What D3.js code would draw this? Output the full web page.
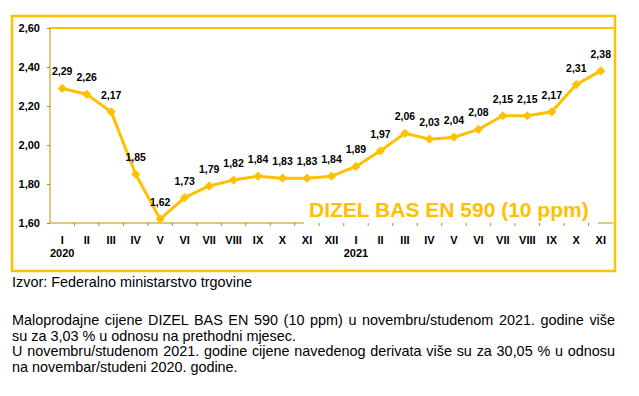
<!DOCTYPE html>
<html>
<head>
<meta charset="utf-8">
<script src="https://cdn.jsdelivr.net/npm/d3@7"></script>
<style>
  body { margin: 0; background: #fff; }
  text { font-family: Arial, "Liberation Sans", sans-serif; }
</style>
</head>
<body>
<div id="chart"></div>
<script>
// months Jan 2020 - Nov 2021
const months = ["I", "II", "III", "IV", "V", "VI", "VII", "VIII", "IX", "X", "XI", "XII",
  "I", "II", "III", "IV", "V", "VI", "VII", "VIII", "IX", "X", "XI"];
const years = ["2020", "", "", "", "", "", "", "", "", "", "", "",
  "2021", "", "", "", "", "", "", "", "", "", ""];
const prices = [2.29, 2.26, 2.17, 1.85, 1.62, 1.73, 1.79, 1.82, 1.84, 1.83, 1.83, 1.84,
  1.89, 1.97, 2.06, 2.03, 2.04, 2.08, 2.15, 2.15, 2.17, 2.31, 2.38];
const yTicks = [1.6, 1.8, 2.0, 2.2, 2.4, 2.6];
const chartTitle = "DIZEL BAS EN 590 (10 ppm)";
const sourceText = "Izvor: Federalno ministarstvo trgovine";
const noteLines = [
  "Maloprodajne cijene DIZEL BAS EN 590 (10 ppm) u novembru/studenom 2021. godine više",
  "su za 3,03 % u odnosu na prethodni mjesec.",
  "U novembru/studenom 2021. godine cijene navedenog derivata više su za 30,05 % u odnosu",
  "na novembar/studeni 2020. godine."
];
const justified = [true, false, true, false];

const width = 639;
const height = 396;
const gold = "#FFC000";
const axisColor = "#BF9000";

const svg = d3.select("#chart")
  .append("svg")
  .attr("width", width)
  .attr("height", height);

// outer frame
svg.append("rect")
  .attr("x", 12).attr("y", 16)
  .attr("width", 603).attr("height", 255)
  .attr("fill", "#fff")
  .attr("stroke", gold)
  .attr("stroke-width", 2.5);

const plot = { left: 50, right: 613, top: 28, bottom: 223 };

const x = d3.scaleBand()
  .domain(d3.range(months.length))
  .range([plot.left, plot.right]);

const y = d3.scaleLinear()
  .domain([1.6, 2.6])
  .range([plot.bottom, plot.top]);

// top border of plot area
svg.append("line")
  .attr("x1", plot.left).attr("x2", 615)
  .attr("y1", plot.top).attr("y2", plot.top)
  .attr("stroke", gold)
  .attr("stroke-width", 2);

// y axis
const yAxis = svg.append("g")
  .attr("transform", `translate(${plot.left},0)`)
  .call(d3.axisLeft(y).tickValues(yTicks).tickSize(3).tickPadding(7)
    .tickFormat((d) => d3.format(".2f")(d).replace(".", ",")));
yAxis.select(".domain").attr("stroke", axisColor).attr("d", `M0,${plot.top}V${plot.bottom}`);
yAxis.selectAll(".tick line").attr("stroke", axisColor);
yAxis.selectAll("text")
  .attr("fill", "#000")
  .style("font-size", "11px")
  .style("font-weight", "bold");

// x axis line
svg.append("line")
  .attr("x1", plot.left).attr("x2", plot.right)
  .attr("y1", plot.bottom).attr("y2", plot.bottom)
  .attr("stroke", axisColor)
  .attr("stroke-width", 1);

// title box sits over the axis line
svg.append("rect")
  .attr("x", 304).attr("y", 194)
  .attr("width", 294).attr("height", 30)
  .attr("fill", "#fff");

svg.append("text")
  .attr("x", 309)
  .attr("y", 217)
  .attr("fill", gold)
  .style("font-size", "21px")
  .style("font-weight", "bold")
  .text(chartTitle);

// tick marks between categories
svg.selectAll(".xtick")
  .data(d3.range(1, months.length))
  .enter()
  .append("line")
  .attr("class", "xtick")
  .attr("x1", (i) => x(i)).attr("x2", (i) => x(i))
  .attr("y1", plot.bottom).attr("y2", plot.bottom + 3)
  .attr("stroke", axisColor);

// month labels
svg.selectAll(".month")
  .data(months)
  .enter()
  .append("text")
  .attr("class", "month")
  .attr("x", (d, i) => x(i) + x.bandwidth() / 2)
  .attr("y", 244)
  .attr("text-anchor", "middle")
  .style("font-size", "11px")
  .style("font-weight", "bold")
  .text((d) => d);

svg.selectAll(".year")
  .data(years)
  .enter()
  .append("text")
  .attr("class", "year")
  .attr("x", (d, i) => x(i) + x.bandwidth() / 2)
  .attr("y", 257)
  .attr("text-anchor", "middle")
  .style("font-size", "11px")
  .style("font-weight", "bold")
  .text((d) => d);

// price line
const line = d3.line()
  .x((d, i) => x(i) + x.bandwidth() / 2)
  .y((d) => y(d));

svg.append("path")
  .datum(prices)
  .attr("fill", "none")
  .attr("stroke", gold)
  .attr("stroke-width", 3)
  .attr("stroke-linejoin", "round")
  .attr("d", line);

svg.selectAll(".marker")
  .data(prices)
  .enter()
  .append("path")
  .attr("class", "marker")
  .attr("d", d3.symbol(d3.symbolSquare, 42))
  .attr("transform", (d, i) => `translate(${x(i) + x.bandwidth() / 2},${y(d)}) rotate(45)`)
  .attr("fill", gold);

svg.selectAll(".label")
  .data(prices)
  .enter()
  .append("text")
  .attr("class", "label")
  .attr("x", (d, i) => x(i) + x.bandwidth() / 2)
  .attr("y", (d) => y(d) - 13)
  .attr("text-anchor", "middle")
  .style("font-size", "10.5px")
  .style("font-weight", "bold")
  .text((d) => d3.format(".2f")(d).replace(".", ","));

// source and note below the chart
svg.append("text")
  .attr("x", 12)
  .attr("y", 287)
  .style("font-size", "14.4px")
  .text(sourceText);

const noteRight = 615;
noteLines.forEach((t, i) => {
  const el = svg.append("text")
    .attr("x", 12)
    .attr("y", 325 + i * 15.7)
    .style("font-size", "14.4px")
    .text(t);
  if (justified[i]) {
    const natural = el.node().getComputedTextLength();
    const gaps = t.split(" ").length - 1;
    el.attr("word-spacing", (noteRight - 12 - natural) / gaps);
  }
});
</script>
</body>
</html>
